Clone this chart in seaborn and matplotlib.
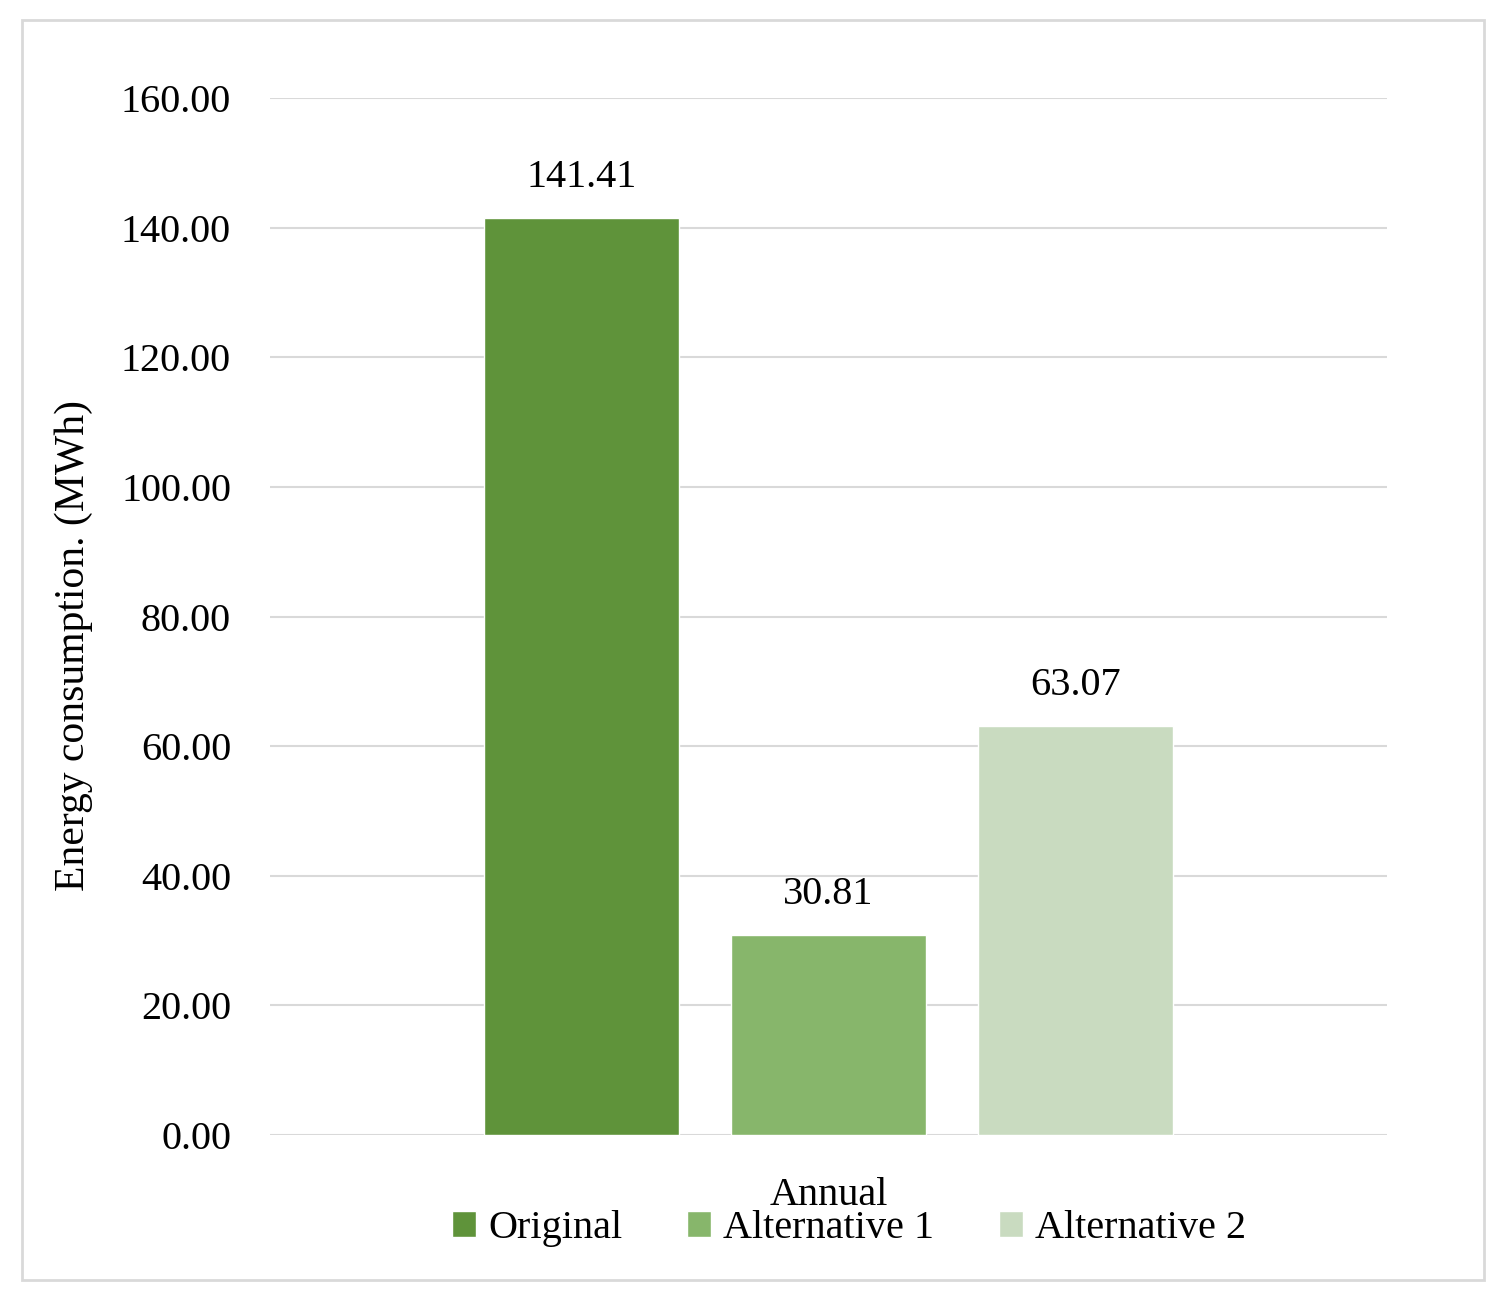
import pandas as pd
import matplotlib.pyplot as plt
import seaborn as sns
from matplotlib.patches import Rectangle

# data
periods = ["Annual", "Annual", "Annual"]
scenarios = ["Original", "Alternative 1", "Alternative 2"]
energy = [141.41, 30.81, 63.07]
colors = ["#5F933A", "#87B66B", "#C9DBC0"]

df = pd.DataFrame({"period": periods, "scenario": scenarios, "energy": energy})

sns.set_theme(style="white")
plt.rcParams["font.family"] = ["Liberation Serif", "DejaVu Serif"]
plt.rcParams["text.color"] = "black"
plt.rcParams["xtick.color"] = "black"
plt.rcParams["ytick.color"] = "black"
plt.rcParams["axes.labelcolor"] = "black"

fig = plt.figure(figsize=(15.03, 13.03), dpi=100)
ax = fig.add_axes([0.1796, 0.1289, 0.7432, 0.7959])

sns.barplot(data=df, x="period", y="energy", hue="scenario",
            palette=colors, width=0.663, gap=0.21, saturation=1,
            legend=True, ax=ax)

# value labels
for cont in ax.containers:
    ax.bar_label(cont, fmt="%.2f", padding=16, fontsize=29)

ax.set_ylim(0, 160)
ax.set_xlim(-0.5, 0.5)
ax.set_yticks(range(0, 161, 20))
ax.set_yticklabels([f"{v:.2f}" for v in range(0, 161, 20)])
ax.yaxis.grid(True, color="#d9d9d9", linewidth=1.5)
ax.set_axisbelow(True)
for s in ax.spines.values():
    s.set_visible(False)
ax.tick_params(axis="y", length=0, pad=28, labelsize=29)
ax.tick_params(axis="x", length=0, pad=30, labelsize=29)
ax.set_xlabel("")
ax.set_ylabel("Energy consumption. (MWh)", fontsize=30)
ax.yaxis.set_label_coords(-0.158, 0.472)

ax.get_legend().remove()
handles, labels = ax.get_legend_handles_labels()
fig.legend(handles, labels, loc="center", bbox_to_anchor=(0.565, 0.057),
           ncol=3, frameon=False, fontsize=29, handlelength=0.6,
           handleheight=0.6, handletextpad=0.3, columnspacing=1.6)

# outer border
fig.patches.append(Rectangle((22 / 1503, 1 - 1280 / 1303), 1462 / 1503, 1260 / 1303,
                             transform=fig.transFigure, fill=False,
                             edgecolor="#d9d9d9", linewidth=2))

fig.savefig("out.png", dpi=100, facecolor="white")
